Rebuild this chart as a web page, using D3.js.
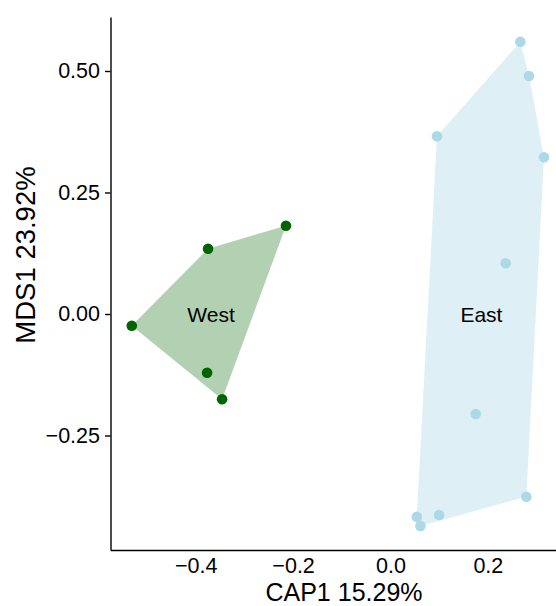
<!DOCTYPE html>
<html>
<head>
<meta charset="utf-8">
<script src="https://cdn.jsdelivr.net/npm/d3@7/dist/d3.min.js"></script>
<style>
  html, body { margin: 0; padding: 0; background: #fff; }
  text { font-family: "Liberation Sans", Arial, Helvetica, sans-serif; fill: #000; }
</style>
</head>
<body>
<svg id="chart" width="556" height="606"></svg>
<script>
// ---- data ----
const groups = ["West", "East"];
const groupColors = ["#006400", "#ADD8E6"];
const westCAP1 = [-0.3746, -0.2146, -0.5313, -0.3766, -0.3458];
const westMDS1 = [0.1344, 0.1817, -0.0241, -0.1208, -0.1755];
const eastCAP1 = [0.2667, 0.2845, 0.0955, 0.3153, 0.2367, 0.1752, 0.2790, 0.0542, 0.0999, 0.0615];
const eastMDS1 = [0.5603, 0.4897, 0.3656, 0.3224, 0.1043, -0.2058, -0.3759, -0.4171, -0.4136, -0.4362];
const xTicks = [-0.4, -0.2, 0.0, 0.2];
const yTicks = [-0.25, 0.00, 0.25, 0.50];
const xTitle = "CAP1 15.29%";
const yTitle = "MDS1 23.92%";

const series = [
  { name: groups[0], color: groupColors[0], xs: westCAP1, ys: westMDS1, hullOpacity: 0.3 },
  { name: groups[1], color: groupColors[1], xs: eastCAP1, ys: eastMDS1, hullOpacity: 0.4 }
];

// ---- layout ----
const svg = d3.select("#chart");
const mLeft = 110.5, mRight = 556, mTop = 17, mBottom = 550;

const x = d3.scaleLinear().domain([-0.575, 0.34]).range([mLeft, mRight]);
const y = d3.scaleLinear().domain([-0.4856, 0.6111]).range([mBottom, mTop]);

// hulls
series.forEach(s => {
  const pts = s.xs.map((v, i) => [x(v), y(s.ys[i])]);
  const hull = d3.polygonHull(pts);
  svg.append("path")
    .attr("d", "M" + hull.map(p => p.join(",")).join("L") + "Z")
    .attr("fill", s.color)
    .attr("fill-opacity", s.hullOpacity)
    .attr("stroke", "none");
});

// points
series.forEach(s => {
  svg.append("g").selectAll("circle")
    .data(s.xs.map((v, i) => [v, s.ys[i]]))
    .join("circle")
    .attr("cx", d => x(d[0]))
    .attr("cy", d => y(d[1]))
    .attr("r", 5.3)
    .attr("fill", s.color);
});

// group labels at centroids
series.forEach(s => {
  svg.append("text")
    .attr("x", x(d3.mean(s.xs)))
    .attr("y", y(d3.mean(s.ys)))
    .attr("dy", "0.36em")
    .attr("text-anchor", "middle")
    .style("font-size", "21px")
    .text(s.name);
});

// axes
const xAxis = svg.append("g")
  .attr("transform", `translate(0,${mBottom})`)
  .call(d3.axisBottom(x).tickValues(xTicks).tickFormat(d3.format(".1f")).tickSize(0).tickSizeOuter(0).tickPadding(8));
const yAxis = svg.append("g")
  .attr("transform", `translate(${mLeft},0)`)
  .call(d3.axisLeft(y).tickValues(yTicks).tickFormat(d3.format(".2f")).tickSize(5.5).tickSizeOuter(0).tickPadding(5));

[xAxis, yAxis].forEach(g => {
  g.select(".domain").attr("stroke", "#000").attr("stroke-width", 1.4);
  g.selectAll(".tick line").attr("stroke", "#000").attr("stroke-width", 1.4);
  g.selectAll(".tick text")
    .attr("fill", "#000")
    .style("font-size", "21.5px")
    .style("font-family", '"Liberation Sans", Arial, sans-serif');
});

// titles
svg.append("text")
  .attr("x", 344)
  .attr("y", 600.5)
  .attr("text-anchor", "middle")
  .style("font-size", "25px")
  .text(xTitle);

svg.append("text")
  .attr("transform", "translate(35,255) rotate(-90)")
  .attr("text-anchor", "middle")
  .style("font-size", "27.5px")
  .text(yTitle);
</script>
</body>
</html>
